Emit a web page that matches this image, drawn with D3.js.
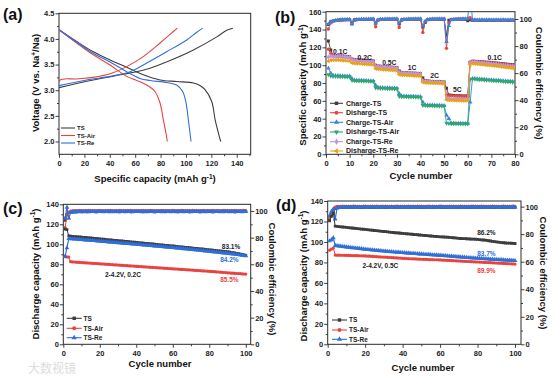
<!DOCTYPE html>
<html><head><meta charset="utf-8">
<script src="https://cdn.jsdelivr.net/npm/d3@7"></script>
<style>body{margin:0;background:#fff}svg{display:block}</style>
</head><body>
<script>
// ---------------- DATA ----------------
// (a) charge/discharge profiles: capacity (mAh/g) and voltage (V)
const aTSchgCap = [0,13.9,27,48.1,61.2,71.7,87.5,105.9,124.3,132.1,136.9];
const aTSchgV   = [3.05,3.13,3.2,3.30,3.36,3.43,3.58,3.785,4.04,4.17,4.21];
const aAirChgCap = [0,0.5,13.9,27,40.2,53.3,66.4,79.6,88,93.2];
const aAirChgV   = [2.80,3.19,3.22,3.25,3.32,3.46,3.655,3.92,4.1,4.21];
const aReChgCap = [0,21.8,40.2,56,69.1,84.8,100.6,108,113.2];
const aReChgV   = [3.09,3.2,3.27,3.36,3.53,3.75,3.98,4.12,4.21];
const aTSdisCap = [0,13.9,27,40.2,53.3,66.4,79.6,92.7,105.9,111,115,120.3,123,125.6,127.4];
const aTSdisV   = [4.18,3.95,3.75,3.59,3.45,3.3,3.2,3.17,3.14,3.09,3.01,2.78,2.42,2.16,2.0];
const aAirDisCap = [0,13.9,27,40.2,53.3,61.2,69.1,75.7,79.6,82.2,84.3,85.3];
const aAirDisV   = [4.18,3.92,3.69,3.49,3.27,3.19,3.10,2.97,2.75,2.42,2.16,2.0];
const aReDisCap = [0,13.9,27,40.2,53.3,63.8,71.7,84.9,92.7,97.5,100.1,101.9,103.2,104];
const aReDisV   = [4.18,3.94,3.72,3.55,3.36,3.23,3.19,3.15,3.10,2.97,2.75,2.42,2.16,2.0];
const aLegend = ["TS","TS-Air","TS-Re"];

// (b) rate capability, cycles 1..80
const bCycles = d3.range(1, 81);
const bChTS = [127,117,111,110.8,110.6,110.4,110.2,110.0,109.8,109.5,
 107,106.5,106.2,106.0,105.8,105.6,105.4,105.2,105.0,104.8,
 100.0,99.0,98.7,98.5,98.3,98.1,97.9,97.7,97.5,97.3,
 93.5,91.8,91.6,91.4,91.3,91.1,91.0,90.8,90.7,90.5,
 85.5,82.5,82.2,82.0,81.8,81.7,81.5,81.4,81.2,81.1,
 74,66.5,66.2,66.0,65.8,65.7,65.6,65.5,65.4,65.3,
 103,104.5,104.4,104.2,104.0,103.8,103.6,103.4,103.2,103.0,
 102.8,102.5,102.2,101.9,101.6,101.3,101.0,100.7,100.4,100.0];
const bDisTS = [118,113,110.2,110.0,109.8,109.6,109.4,109.2,109.0,108.8,
 106.3,106.0,105.8,105.6,105.4,105.2,105.0,104.8,104.6,104.4,
 99.2,98.6,98.4,98.2,98.0,97.8,97.6,97.4,97.2,97.0,
 91.8,91.4,91.2,91.0,90.9,90.7,90.6,90.4,90.3,90.1,
 82.2,81.9,81.7,81.5,81.4,81.2,81.1,80.9,80.8,80.7,
 66.5,65.8,65.7,65.6,65.5,65.4,65.3,65.2,65.1,65.0,
 103.5,104.2,104.0,103.8,103.6,103.4,103.2,103.0,102.8,102.6,
 102.3,102.0,101.7,101.4,101.1,100.8,100.5,100.2,99.9,99.6];
const bChAir = [96.5,91,88.5,88.3,88.2,88.0,87.9,87.8,87.7,87.6,
 85.0,83.2,83.0,82.9,82.8,82.7,82.6,82.5,82.4,82.3,
 77.5,75.0,74.8,74.7,74.6,74.5,74.4,74.3,74.2,74.1,
 68.0,65.5,65.3,65.2,65.1,65.0,64.9,64.8,64.7,64.6,
 58.5,55.5,55.3,55.2,55.1,55.0,54.9,54.8,54.7,54.6,
 44.0,40.0,35.0,34.9,34.8,34.7,34.6,34.5,34.5,34.4,
 58.5,85.0,84.8,84.6,84.4,84.2,84.0,83.8,83.6,83.4,
 83.2,83.0,82.8,82.6,82.4,82.2,82.0,81.8,81.6,81.4];
const bDisAir = [89.5,88.0,87.5,87.4,87.3,87.2,87.1,87.0,86.9,86.8,
 83.0,82.6,82.5,82.4,82.3,82.2,82.1,82.0,81.9,81.8,
 74.5,74.2,74.1,74.0,73.9,73.8,73.7,73.6,73.5,73.4,
 65.0,64.8,64.7,64.6,64.5,64.4,64.3,64.2,64.1,64.0,
 55.0,54.8,54.7,54.6,54.5,54.4,54.3,54.2,54.1,54.0,
 35.0,34.6,34.5,34.4,34.3,34.3,34.2,34.2,34.1,34.1,
 84.0,84.5,84.3,84.1,83.9,83.7,83.5,83.3,83.1,82.9,
 82.7,82.5,82.3,82.1,81.9,81.7,81.5,81.3,81.1,80.9];
const bChRe = [109,110,110.2,110.1,110.0,109.8,109.6,109.4,109.2,109.0,
 106.0,105.5,105.3,105.1,104.9,104.7,104.5,104.3,104.1,103.9,
 99.0,98.5,98.3,98.1,97.9,97.7,97.5,97.3,97.1,96.9,
 91.8,91.4,91.2,91.1,90.9,90.8,90.6,90.5,90.3,90.2,
 82.5,81.8,81.6,81.5,81.3,81.2,81.1,81.0,80.9,80.8,
 63.5,62.5,62.4,62.3,62.2,62.1,62.0,61.9,61.8,61.7,
 102.5,103.8,103.6,103.3,103.0,102.7,102.4,102.1,101.8,101.5,
 101.2,100.9,100.6,100.3,100.0,99.7,99.4,99.1,98.8,98.5];
const bDisRe = [104.5,105.5,105.8,105.8,105.7,105.6,105.4,105.2,105.0,104.8,
 102.5,102.2,102.0,101.8,101.6,101.4,101.2,101.0,100.8,100.6,
 96.0,95.6,95.4,95.2,95.0,94.8,94.6,94.4,94.2,94.0,
 89.4,89.1,88.9,88.8,88.6,88.5,88.3,88.2,88.0,87.9,
 80.8,80.4,80.2,80.1,80.0,79.9,79.8,79.7,79.6,79.5,
 61.2,60.8,60.7,60.6,60.5,60.4,60.3,60.2,60.1,60.0,
 100.5,102.0,101.7,101.4,101.1,100.8,100.5,100.2,99.9,99.6,
 99.3,99.0,98.7,98.4,98.1,97.8,97.5,97.1,96.7,96.3];
const bCeTS = [96.0,98.0,98.6,98.9,99.1,99.2,99.3,99.4,99.5,99.5,
 96.3,99.2,99.5,99.6,99.6,99.7,99.7,99.7,99.8,99.8,
 96.8,99.3,99.6,99.7,99.7,99.8,99.8,99.8,99.8,99.8,
 96.3,99.3,99.6,99.7,99.8,99.8,99.8,99.8,99.9,99.9,
 94.0,97.5,99.5,99.7,99.8,99.8,99.9,99.9,99.9,99.9,
 88.0,99.0,99.6,99.7,99.8,99.8,99.8,99.8,99.7,98.7,
 99.5,99.0,99.0,99.0,98.9,99.0,99.0,98.9,99.0,99.0,
 98.9,99.0,99.0,98.9,99.0,99.0,98.9,99.0,99.0,98.9];
const bCeAir = [92.6,97.0,98.3,98.8,99.1,99.3,99.4,99.5,99.6,99.6,
 97.5,99.4,99.7,99.7,99.8,99.8,99.8,99.8,99.9,99.9,
 94.3,99.0,99.7,99.8,99.8,99.8,99.9,99.9,99.9,99.9,
 93.8,99.0,99.7,99.8,99.8,99.9,99.9,99.9,99.9,99.9,
 90.1,98.0,99.6,99.8,99.8,99.9,99.9,99.9,99.9,99.9,
 78.3,97.0,99.6,99.8,99.9,99.9,100.0,100.0,100.0,100.1,
 101.0,99.2,99.2,99.1,99.2,99.2,99.1,99.2,99.2,99.1,
 99.2,99.2,99.1,99.2,99.2,99.1,99.2,99.2,99.1,99.2];
const bCeRe = [96.3,97.8,98.5,98.9,99.2,99.4,99.5,99.6,99.7,99.7,
 96.5,99.3,99.6,99.7,99.8,99.8,99.9,99.9,99.9,99.9,
 97.0,99.4,99.7,99.8,99.9,99.9,99.9,99.9,99.9,100.0,
 97.0,99.4,99.7,99.8,99.9,99.9,99.9,100.0,100.0,100.0,
 95.0,98.5,99.6,99.8,99.9,99.9,100.0,100.0,100.0,100.0,
 83.2,95.0,99.4,99.7,99.8,99.9,99.9,100.0,100.0,100.5,
 120.0,99.3,99.3,99.2,99.3,99.3,99.2,99.3,99.3,99.2,
 99.3,99.3,99.2,99.3,99.3,99.2,99.3,99.3,99.2,99.3];
const bLegend = ["Charge-TS","Disharge-TS","Charge-TS-Air","Disharge-TS-Air","Charge-TS-Re","Disharge-TS-Re"];
const bRates = ["0.1C","0.2C","0.5C","1C","2C","5C","0.1C"];
const bRateCycle = [6.05,16.4,26.8,36.4,46.0,55.6,71.4];
const bRateCap = [115.2,108.9,103.3,97.2,87.9,72.8,108.9];

// (c) cycling 0.2C, cycles 1..100
const cdCycles = d3.range(1, 101);
const cTS = [115.2,114.6,108.4,108.1,107.9,107.7,107.6,107.4,107.3,107.1,
 106.9,106.8,106.6,106.4,106.3,106.1,105.9,105.8,105.6,105.4,
 105.2,105.1,104.9,104.7,104.5,104.4,104.2,104.0,103.8,103.7,
 103.5,103.3,103.1,102.9,102.8,102.6,102.4,102.2,102.1,101.9,
 101.7,101.5,101.3,101.2,101.0,100.8,100.6,100.4,100.3,100.1,
 99.9,99.7,99.5,99.4,99.2,99.0,98.8,98.6,98.5,98.3,
 98.1,97.9,97.7,97.5,97.4,97.2,97.0,96.8,96.6,96.4,
 96.2,96.0,95.8,95.7,95.5,95.3,95.1,94.9,94.7,94.5,
 94.3,94.1,93.9,93.7,93.5,93.3,93.1,92.9,92.7,92.5,
 92.3,92.0,91.7,91.4,91.0,90.6,90.2,89.8,89.4,89.0];
const cAir = [87.6,87.4,87.2,82.6,82.4,82.3,82.1,82.0,81.9,81.8,
 81.6,81.5,81.4,81.3,81.1,81.0,80.9,80.8,80.6,80.5,
 80.4,80.3,80.1,80.0,79.9,79.8,79.6,79.5,79.4,79.3,
 79.1,79.0,78.9,78.8,78.6,78.5,78.4,78.3,78.1,78.0,
 77.9,77.8,77.6,77.5,77.4,77.3,77.1,77.0,76.9,76.8,
 76.6,76.5,76.4,76.3,76.1,76.0,75.9,75.8,75.6,75.5,
 75.4,75.3,75.1,75.0,74.9,74.8,74.6,74.5,74.4,74.3,
 74.1,74.0,73.9,73.8,73.6,73.5,73.4,73.3,73.1,73.0,
 72.9,72.7,72.6,72.4,72.3,72.1,72.0,71.8,71.7,71.5,
 71.4,71.2,71.1,70.9,70.8,70.7,70.6,70.4,70.3,70.2];
const cRe = [88.0,96.4,105.6,105.5,105.4,105.2,105.1,104.9,104.8,104.6,
 104.5,104.3,104.2,104.0,103.9,103.7,103.6,103.4,103.3,103.1,
 103.0,102.8,102.6,102.5,102.3,102.2,102.0,101.8,101.7,101.5,
 101.4,101.2,101.0,100.9,100.7,100.6,100.4,100.2,100.1,99.9,
 99.8,99.6,99.4,99.3,99.1,98.9,98.8,98.6,98.4,98.3,
 98.1,97.9,97.8,97.6,97.4,97.3,97.1,96.9,96.8,96.6,
 96.4,96.2,96.1,95.9,95.7,95.5,95.4,95.2,95.0,94.8,
 94.6,94.4,94.3,94.1,93.9,93.7,93.5,93.3,93.1,92.9,
 92.7,92.5,92.3,92.1,91.9,91.7,91.5,91.3,91.1,90.9,
 90.7,90.5,90.3,90.1,89.8,89.6,89.3,89.0,88.7,88.4];
const cCeTS = [93.0,97.5,98.8,99.2,99.3,99.4,99.4,99.5,99.5,99.4,
 99.5,99.5,99.4,99.5,99.6,99.5,99.5,99.4,99.5,99.5,
 99.6,99.5,99.5,99.5,99.4,99.5,99.6,99.5,99.5,99.5,
 99.4,99.5,99.5,99.6,99.5,99.5,99.4,99.5,99.5,99.6,
 99.5,99.5,99.5,99.4,99.5,99.6,99.5,99.5,99.5,99.4,
 99.5,99.5,99.6,99.5,99.5,99.4,99.5,99.5,99.6,99.5,
 99.5,99.5,99.4,99.5,99.6,99.5,99.5,99.5,99.4,99.5,
 99.5,99.6,99.5,99.5,99.4,99.5,99.5,99.6,99.5,99.5,
 99.5,99.4,99.5,99.6,99.5,99.5,99.5,99.4,99.5,99.5,
 99.6,99.5,99.5,99.4,99.5,99.5,99.6,99.5,99.5,99.5];
const cCeAir = [87.5,96.8,98.9,99.9,100.1,100.2,100.2,100.3,100.2,100.3,
 100.3,100.2,100.3,100.4,100.3,100.3,100.2,100.3,100.3,100.4,
 100.3,100.3,100.2,100.3,100.3,100.4,100.3,100.2,100.3,100.3,
 100.4,100.3,100.3,100.2,100.3,100.3,100.4,100.3,100.3,100.2,
 100.3,100.3,100.4,100.3,100.2,100.3,100.3,100.4,100.3,100.3,
 100.2,100.3,100.3,100.4,100.3,100.3,100.2,100.3,100.3,100.4,
 100.3,100.2,100.3,100.3,100.4,100.3,100.3,100.2,100.3,100.3,
 100.4,100.3,100.3,100.2,100.3,100.3,100.4,100.3,100.2,100.3,
 100.3,100.4,100.3,100.3,100.2,100.3,100.3,100.4,100.3,100.3,
 100.2,100.3,100.3,100.4,100.3,100.2,100.3,100.3,100.4,100.3];
const cCeRe = [94.5,102.7,94.5,98.8,99.2,99.3,99.4,99.4,99.5,99.5,
 99.4,99.5,99.5,99.4,99.5,99.6,99.5,99.4,99.5,99.5,
 99.5,99.4,99.5,99.6,99.5,99.5,99.4,99.5,99.5,99.4,
 99.5,99.6,99.5,99.4,99.5,99.5,99.5,99.4,99.5,99.6,
 99.5,99.5,99.4,99.5,99.5,99.4,99.5,99.6,99.5,99.4,
 99.5,99.5,99.5,99.4,99.5,99.6,99.5,99.5,99.4,99.5,
 99.5,99.4,99.5,99.6,99.5,99.4,99.5,99.5,99.5,99.4,
 99.5,99.6,99.5,99.5,99.4,99.5,99.5,99.4,99.5,99.6,
 99.5,99.4,99.5,99.5,99.5,99.4,99.5,99.6,99.5,99.5,
 99.4,99.5,99.5,99.4,99.5,99.6,99.5,99.4,99.5,99.5];
const cNotes = ["83.1%","84.2%","85.5%","2-4.2V, 0.2C"];
const cNoteCycle = [91.9,91,91,32.7];
const cNoteCap = [97.6,85,65,69.3];

// (d) cycling 0.5C
const dTS = [120.5,125.0,128.0,115.5,115.2,115.0,114.8,114.6,114.4,114.2,
 114.0,113.8,113.6,113.4,113.2,113.0,112.8,112.6,112.4,112.2,
 112.0,111.8,111.6,111.4,111.2,111.0,110.8,110.6,110.4,110.2,
 110.0,109.8,109.6,109.4,109.2,109.0,108.8,108.7,108.5,108.4,
 108.2,108.0,107.9,107.7,107.5,107.3,107.2,107.0,106.8,106.7,
 106.5,106.3,106.1,106.0,105.8,105.6,105.5,105.3,105.2,105.0,
 104.9,104.8,104.7,104.6,104.5,104.3,104.1,103.9,103.7,103.5,
 103.4,103.3,103.2,103.1,103.0,102.9,102.8,102.7,102.6,102.5,
 102.3,102.1,101.9,101.7,101.5,101.2,100.9,100.6,100.3,100.0,
 99.8,99.6,99.4,99.2,99.0,98.9,98.8,98.7,98.6,98.5];
const dAir = [92.0,93.0,94.0,87.2,87.1,87.1,87.0,87.0,86.9,86.9,
 86.8,86.8,86.7,86.7,86.6,86.6,86.5,86.4,86.4,86.3,
 86.2,86.1,86.0,85.9,85.8,85.6,85.5,85.4,85.3,85.2,
 85.1,85.0,84.8,84.7,84.6,84.5,84.4,84.3,84.1,84.0,
 83.9,83.8,83.7,83.6,83.5,83.5,83.4,83.3,83.2,83.1,
 83.0,83.0,82.9,82.8,82.8,82.7,82.6,82.6,82.5,82.4,
 82.3,82.2,82.1,82.0,81.9,81.8,81.7,81.6,81.5,81.4,
 81.3,81.2,81.1,81.0,80.9,80.8,80.7,80.6,80.5,80.4,
 80.3,80.2,80.1,80.0,79.9,79.8,79.7,79.6,79.5,79.4,
 79.3,79.2,79.1,79.0,78.9,78.8,78.7,78.6,78.5,78.4];
const dRe = [101.0,102.0,104.0,96.5,96.2,96.0,95.7,95.5,95.3,95.0,
 94.8,94.6,94.3,94.1,93.9,93.7,93.5,93.3,93.0,92.8,
 92.6,92.4,92.2,92.1,91.9,91.7,91.5,91.3,91.2,91.0,
 90.8,90.7,90.5,90.3,90.2,90.0,89.9,89.8,89.6,89.5,
 89.4,89.2,89.1,88.9,88.8,88.7,88.5,88.4,88.2,88.1,
 88.0,87.8,87.7,87.6,87.4,87.3,87.2,87.1,87.0,86.9,
 86.7,86.6,86.4,86.3,86.1,86.0,85.8,85.7,85.5,85.4,
 85.2,85.1,84.9,84.8,84.6,84.5,84.4,84.3,84.1,84.0,
 83.9,83.8,83.6,83.5,83.4,83.3,83.1,83.0,82.9,82.8,
 82.7,82.6,82.5,82.3,82.2,82.1,82.0,81.9,81.8,81.7];
const dCeTS = [90.5,94.0,96.5,98.6,99.2,99.4,99.4,99.5,99.5,99.4,
 99.5,99.5,99.4,99.5,99.6,99.5,99.5,99.4,99.5,99.5,
 99.6,99.5,99.5,99.5,99.4,99.5,99.6,99.5,99.5,99.5,
 99.4,99.5,99.5,99.6,99.5,99.5,99.4,99.5,99.5,99.6,
 99.5,99.5,99.5,99.4,99.5,99.6,99.5,99.5,99.5,99.4,
 99.5,99.5,99.6,99.5,99.5,99.4,99.5,99.5,99.6,99.5,
 99.5,99.5,99.4,99.5,99.6,99.5,99.5,99.5,99.4,99.5,
 99.5,99.6,99.5,99.5,99.4,99.5,99.5,99.6,99.5,99.5,
 99.5,99.4,99.5,99.6,99.5,99.5,99.5,99.4,99.5,99.5,
 99.6,99.5,99.5,99.4,99.5,99.5,99.6,99.5,99.5,99.5];
const dCeAir = [92.0,95.5,97.0,99.6,100.2,100.3,100.3,100.4,100.3,100.3,
 100.3,100.2,100.3,100.4,100.3,100.3,100.2,100.3,100.3,100.4,
 100.3,100.3,100.2,100.3,100.3,100.4,100.3,100.2,100.3,100.3,
 100.4,100.3,100.3,100.2,100.3,100.3,100.4,100.3,100.3,100.2,
 100.3,100.3,100.4,100.3,100.2,100.3,100.3,100.4,100.3,100.3,
 100.2,100.3,100.3,100.4,100.3,100.3,100.2,100.3,100.3,100.4,
 100.3,100.2,100.3,100.3,100.4,100.3,100.3,100.2,100.3,100.3,
 100.4,100.3,100.3,100.2,100.3,100.3,100.4,100.3,100.2,100.3,
 100.3,100.4,100.3,100.3,100.2,100.3,100.3,100.4,100.3,100.3,
 100.2,100.3,100.3,100.4,100.3,100.2,100.3,100.3,100.4,100.3];
const dCeRe = [93.5,96.5,98.3,91.0,99.0,99.3,99.4,99.5,99.5,99.6,
 99.6,99.5,99.6,99.7,99.6,99.5,99.6,99.6,99.7,99.6,
 99.5,99.6,99.6,99.7,99.6,99.5,99.6,99.6,99.7,99.6,
 99.6,99.5,99.6,99.7,99.6,99.6,99.5,99.6,99.7,99.6,
 99.6,99.6,99.5,99.6,99.7,99.6,99.6,99.5,99.6,99.7,
 99.6,99.6,99.6,99.5,99.6,99.7,99.6,99.6,99.5,99.6,
 99.7,99.6,99.6,99.6,99.5,99.6,99.7,99.6,99.6,99.5,
 99.6,99.7,99.6,99.6,99.6,99.5,99.6,99.7,99.6,99.6,
 99.5,99.6,99.7,99.6,99.6,99.6,99.5,99.6,99.7,99.6,
 99.6,99.5,99.6,99.7,99.6,99.6,99.5,99.6,99.7,99.6];
const dNotes = ["86.2%","83.7%","89.9%","2-4.2V, 0.5C"];
const dNoteCycle = [84.7,84.7,84.7,28.1];
const dNoteCap = [109,88.9,71.6,76.8];
const cdLegend = ["TS","TS-Air","TS-Re"];

// ---------------- STYLE ----------------
const FONT = '"Liberation Sans", Arial, Helvetica, sans-serif';
const AX = "#2a2a2a";
const C_GRAY = "#3d3d3d", C_RED = "#e8433f", C_BLUE = "#2f6fd8";
const C_BBLUE = "#3b82e0", C_GREEN = "#2da870", C_PURPLE = "#c490e6", C_GOLD = "#e2a41c";

const svg = d3.select("body").append("svg").attr("width", 554).attr("height", 380)
  .style("font-family", FONT);
const defs = svg.append("defs");

function addAxis(transform, axis) {
  const g = svg.append("g").attr("transform", transform).call(axis);
  g.select(".domain").remove();
  g.selectAll(".tick line").attr("stroke", AX).attr("stroke-width", 0.9);
  g.selectAll(".tick text").attr("font-size", 7.5).attr("font-weight", "bold")
    .attr("font-family", FONT).attr("fill", "#222");
  return g;
}

function frame(x, y, yR, o) {
  const [x0, x1] = x.range(); const [yb, yt] = y.range();
  addAxis(`translate(0,${yb})`, d3.axisBottom(x).tickValues(o.xMin).tickSize(2).tickFormat(""));
  addAxis(`translate(0,${yb})`, d3.axisBottom(x).tickValues(o.xMaj).tickSize(3.5).tickPadding(2.5).tickFormat(o.fx || d3.format("d")));
  addAxis(`translate(${x0},0)`, d3.axisLeft(y).tickValues(o.yMin).tickSize(2).tickFormat(""));
  addAxis(`translate(${x0},0)`, d3.axisLeft(y).tickValues(o.yMaj).tickSize(3.5).tickPadding(1).tickFormat(o.fy || d3.format("d")));
  if (yR) {
    addAxis(`translate(${x1},0)`, d3.axisRight(yR).tickValues(o.rMin).tickSize(2).tickFormat(""));
    addAxis(`translate(${x1},0)`, d3.axisRight(yR).tickValues(o.rMaj).tickSize(3.5).tickPadding(1).tickFormat(d3.format("d")));
  }
  svg.append("rect").attr("x", x0).attr("y", yt).attr("width", x1 - x0).attr("height", yb - yt)
    .attr("fill", "none").attr("stroke", AX).attr("stroke-width", 1);
  const id = "clip" + o.id;
  defs.append("clipPath").attr("id", id).append("rect")
    .attr("x", x0).attr("y", yt).attr("width", x1 - x0).attr("height", yb - yt);
  return svg.append("g").attr("clip-path", `url(#${id})`);
}

function series(g, xs, ys, xS, yS, color, shape, rot, size, lw, curve) {
  const pts = xs.map((v, i) => [xS(v), yS(ys[i])]);
  g.append("path").attr("d", d3.line().curve(curve || d3.curveLinear)(pts))
    .attr("fill", "none").attr("stroke", color).attr("stroke-width", lw).attr("stroke-linejoin", "round");
  if (shape) {
    g.append("g").selectAll("path").data(pts).join("path")
      .attr("transform", d => `translate(${d[0]},${d[1]}) rotate(${rot})`)
      .attr("d", d3.symbol().type(shape).size(size)).attr("fill", color);
  }
}

function title(x, y, rot, parts, size) {
  const t = svg.append("text").attr("x", x).attr("y", y).attr("text-anchor", "middle")
    .attr("font-size", size || 9.5).attr("font-weight", "bold").attr("fill", "#111");
  if (rot) t.attr("transform", `rotate(${rot},${x},${y})`);
  parts.forEach(p => {
    const s = t.append("tspan").text(p.t);
    if (p.sup) s.attr("font-size", 6.5).attr("dy", -3.5);
    if (p.after) s.attr("dy", 3.5);
  });
}
function label(x, y, txt) {
  svg.append("text").attr("x", x).attr("y", y).attr("font-size", 16).attr("font-weight", "bold")
    .attr("fill", "#111").text(txt);
}
function note(x, y, txt, color, size) {
  svg.append("text").attr("x", x).attr("y", y).attr("text-anchor", "middle")
    .attr("font-size", size || 6.5).attr("font-weight", "bold").attr("fill", color).text(txt);
}
function legendRow(x0, x1, y, tx, color, shape, rot, size, txt, fs) {
  svg.append("line").attr("x1", x0).attr("x2", x1).attr("y1", y).attr("y2", y)
    .attr("stroke", color).attr("stroke-width", 1.1);
  if (shape) svg.append("path").attr("transform", `translate(${(x0 + x1) / 2},${y}) rotate(${rot})`)
    .attr("d", d3.symbol().type(shape).size(size)).attr("fill", color);
  svg.append("text").attr("x", tx).attr("y", y + 2.4).attr("font-size", fs).attr("font-weight", "bold")
    .attr("fill", "#222").text(txt);
}

// ---------------- PANEL (a) ----------------
{
  const x = d3.scaleLinear().domain([0, 151]).range([59, 250.7]);
  const y = d3.scaleLinear().domain([1.75, 4.5]).range([154.3, 13.3]);
  const g = frame(x, y, null, {
    id: "a", xMaj: d3.range(0, 141, 20), xMin: d3.range(10, 151, 20),
    yMaj: [2.0, 2.5, 3.0, 3.5, 4.0, 4.5], yMin: [2.25, 2.75, 3.25, 3.75, 4.25],
    fy: d3.format(".1f")
  });
  const cr = d3.curveCatmullRom.alpha(0.5);
  series(g, aTSchgCap, aTSchgV, x, y, C_GRAY, null, 0, 0, 1.1, cr);
  series(g, aTSdisCap, aTSdisV, x, y, C_GRAY, null, 0, 0, 1.1, cr);
  series(g, aAirChgCap, aAirChgV, x, y, C_RED, null, 0, 0, 1.1, cr);
  series(g, aAirDisCap, aAirDisV, x, y, C_RED, null, 0, 0, 1.1, cr);
  series(g, aReChgCap, aReChgV, x, y, C_BLUE, null, 0, 0, 1.1, cr);
  series(g, aReDisCap, aReDisV, x, y, C_BLUE, null, 0, 0, 1.1, cr);
  const cols = [C_GRAY, C_RED, C_BLUE];
  [128, 135.5, 143].forEach((yy, i) => legendRow(61, 75, yy, 77, cols[i], null, 0, 0, aLegend[i], 6));
  title(35.5 + 3.5, 83, -90, [{t: "Voltage (V vs. Na"}, {t: "+", sup: true}, {t: "/Na)", after: true}]);
  title(155, 182, 0, [{t: "Specific capacity (mAh g"}, {t: "-1", sup: true}, {t: ")", after: true}]);
  label(3, 20, "(a)");
}

// ---------------- PANEL (b) ----------------
{
  const x = d3.scaleLinear().domain([0, 80]).range([326, 515]);
  const y = d3.scaleLinear().domain([0, 160]).range([154.3, 11.7]);
  const yR = d3.scaleLinear().domain([0, 105.4]).range([154.3, 11.7]);
  const g = frame(x, y, yR, {
    id: "b", xMaj: d3.range(0, 81, 10), xMin: d3.range(5, 80, 10),
    yMaj: d3.range(0, 161, 20), yMin: d3.range(10, 160, 20),
    rMaj: d3.range(0, 101, 20), rMin: d3.range(10, 101, 20)
  });
  const tri = d3.symbolTriangle, sq = d3.symbolSquare, ci = d3.symbolCircle, di = d3.symbolDiamond;
  // Coulombic efficiency
  series(g, bCycles, bCeTS, x, yR, C_GRAY, sq, 0, 9, 0.9);
  series(g, bCycles, bCeAir, x, yR, C_RED, ci, 0, 9, 0.9);
  series(g, bCycles, bCeRe, x, yR, C_BBLUE, tri, 0, 9, 1.0);
  // capacities
  series(g, bCycles, bChTS, x, y, C_GRAY, sq, 0, 9, 0.9);
  series(g, bCycles, bDisTS, x, y, C_RED, ci, 0, 9, 0.9);
  series(g, bCycles, bChAir, x, y, C_BBLUE, tri, 0, 9, 0.9);
  series(g, bCycles, bDisAir, x, y, C_GREEN, tri, 180, 9, 0.9);
  series(g, bCycles, bChRe, x, y, C_PURPLE, di, 0, 9, 0.9);
  series(g, bCycles, bDisRe, x, y, C_GOLD, tri, -90, 9, 0.9);
  bRates.forEach((r, i) => note(x(bRateCycle[i]), y(bRateCap[i]) + 2.5, r, "#222", 6.8));
  const cols = [C_GRAY, C_RED, C_BBLUE, C_GREEN, C_PURPLE, C_GOLD];
  const shapes = [sq, ci, tri, tri, di, tri], rots = [0, 0, 0, 180, 0, -90];
  [103.3, 112.7, 122.3, 132, 141.7, 151].forEach((yy, i) =>
    legendRow(330, 343, yy, 346, cols[i], shapes[i], rots[i], 12, bLegend[i], 7));
  title(302.5 + 3.5, 85, -90, [{t: "Specific capacity (mAh g"}, {t: "-1", sup: true}, {t: ")", after: true}]);
  title(539.5 - 3.5, 83.3, 90, [{t: "Coulombic efficiency (%)"}]);
  title(421, 179, 0, [{t: "Cycle number"}]);
  label(275, 23, "(b)");
}

// ---------------- PANELS (c) & (d) ----------------
function cycPanel(id, xr, yt, xMax, rMax, TS, Air, Re, ceTS, ceAir, ceRe, notes, nC, nY, leg, titles, lab) {
  const x = d3.scaleLinear().domain([0, xMax]).range(xr);
  const y = d3.scaleLinear().domain([0, 140]).range([344.3, yt]);
  const yR = d3.scaleLinear().domain([0, rMax]).range([344.3, yt]);
  const g = frame(x, y, yR, {
    id, xMaj: d3.range(0, 101, 20), xMin: d3.range(10, 101, 20),
    yMaj: d3.range(0, 141, 20), yMin: d3.range(10, 140, 20),
    rMaj: d3.range(0, 101, 20), rMin: d3.range(10, 101, 20)
  });
  const tri = d3.symbolTriangle, sq = d3.symbolSquare, ci = d3.symbolCircle;
  series(g, cdCycles, ceTS, x, yR, C_GRAY, sq, 0, 8, 1);
  series(g, cdCycles, ceAir, x, yR, C_RED, ci, 0, 8, 1);
  series(g, cdCycles, ceRe, x, yR, C_BLUE, tri, 0, 10, 1.2);
  series(g, cdCycles, TS, x, y, C_GRAY, sq, 0, 8, 1);
  series(g, cdCycles, Air, x, y, C_RED, ci, 0, 8, 1);
  series(g, cdCycles, Re, x, y, C_BLUE, tri, 0, 10, 1.2);
  const nCols = ["#222", C_BLUE, C_RED, "#222"];
  notes.forEach((t, i) => note(x(nC[i]), y(nY[i]) + 2.3, t, nCols[i], 6.5));
  const cols = [C_GRAY, C_RED, C_BLUE], shapes = [sq, ci, tri];
  leg.rows.forEach((yy, i) => legendRow(leg.x0, leg.x1, yy, leg.tx, cols[i], shapes[i], 0, 12, cdLegend[i], 6.5));
  title(titles.lx + 3.5, titles.ly, -90, [{t: "Discharge capacity (mAh g"}, {t: "-1", sup: true}, {t: ")", after: true}]);
  title(titles.rx - 3.5, titles.ry, 90, [{t: "Coulombic efficiency (%)"}]);
  title(titles.bx, titles.by, 0, [{t: "Cycle number"}]);
  label(lab[0], lab[1], lab[2]);
}

cycPanel("c", [63.3, 250.7], 204.3, 102.7, 105, cTS, cAir, cRe, cCeTS, cCeAir, cCeRe,
  cNotes, cNoteCycle, cNoteCap, {x0: 66.7, x1: 81.7, tx: 83.5, rows: [318.3, 328.3, 337.7]},
  {lx: 35, ly: 274, rx: 272, ry: 279, bx: 160, by: 367}, [3, 214, "(c)"]);

cycPanel("d", [327.7, 521], 201, 103.2, 104.1, dTS, dAir, dRe, dCeTS, dCeAir, dCeRe,
  dNotes, dNoteCycle, dNoteCap, {x0: 332, x1: 347, tx: 349, rows: [320, 330, 339.3]},
  {lx: 303, ly: 276, rx: 543, ry: 273, bx: 423, by: 371}, [276, 211, "(d)"]);

// watermark
svg.append("text").attr("x", 28).attr("y", 373).attr("font-size", 12)
  .attr("font-family", '"Noto Sans CJK SC", sans-serif').attr("fill", "#dcdcdc").text("大数视镜");
</script>
</body></html>
